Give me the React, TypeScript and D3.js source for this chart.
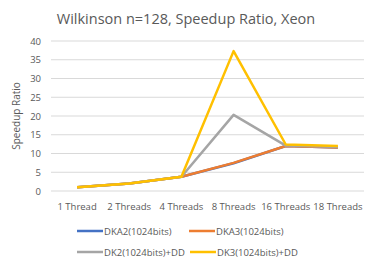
import React, { useRef, useEffect } from "react";
import * as d3 from "d3";

const categories = ["1 Thread", "2 Threads", "4 Threads", "8 Threads", "16 Threads", "18 Threads"];
const dka2 = [1, 2, 3.8, 7.4, 12.0, 11.6];
const dka3 = [1, 2, 3.8, 7.5, 12.0, 11.6];
const dk2dd = [1, 2, 3.8, 20.3, 12.1, 11.7];
const dk3dd = [1, 2, 3.8, 37.3, 12.4, 12.0];
const yTicks = [0, 5, 10, 15, 20, 25, 30, 35, 40];

const series = [
  { name: "DKA2(1024bits)", values: dka2, color: "#4472C4" },
  { name: "DKA3(1024bits)", values: dka3, color: "#ED7D31" },
  { name: "DK2(1024bits)+DD", values: dk2dd, color: "#A5A5A5" },
  { name: "DK3(1024bits)+DD", values: dk3dd, color: "#FFC000" },
];

const W = 373;
const H = 262;
const font = "'Open Sans', 'Noto Sans', sans-serif";

export default function App() {
  const svgRef = useRef<SVGSVGElement>(null);

  useEffect(() => {
    const svg = d3.select(svgRef.current);
    svg.selectAll("*").remove();

    const x = d3.scaleBand().domain(categories).range([51, 364]);
    const y = d3.scaleLinear().domain([0, 40]).range([191, 41]);

    svg.append("rect").attr("width", W).attr("height", H).attr("fill", "#fff");

    // title
    svg.append("text")
      .attr("x", 186).attr("y", 24)
      .attr("text-anchor", "middle")
      .attr("font-family", font)
      .attr("font-size", 14.5)
      .attr("fill", "#595959")
      .text("Wilkinson n=128, Speedup Ratio, Xeon");

    // grid
    svg.append("g").selectAll("line")
      .data(yTicks)
      .enter().append("line")
      .attr("x1", 51).attr("x2", 364)
      .attr("y1", d => y(d)).attr("y2", d => y(d))
      .attr("stroke", "#d9d9d9").attr("stroke-width", 1);

    // y tick labels
    svg.append("g").selectAll("text")
      .data(yTicks)
      .enter().append("text")
      .attr("x", 41).attr("y", d => y(d) + 3.5)
      .attr("text-anchor", "end")
      .attr("font-family", font).attr("font-size", 9.5)
      .attr("fill", "#595959")
      .text(d => d);

    // y label
    svg.append("text")
      .attr("transform", "translate(20,116) rotate(-90)")
      .attr("text-anchor", "middle")
      .attr("font-family", font).attr("font-size", 10)
      .attr("fill", "#595959")
      .text("Speedup Ratio");

    // x labels
    svg.append("g").selectAll("text")
      .data(categories)
      .enter().append("text")
      .attr("x", d => (x(d) as number) + x.bandwidth() / 2)
      .attr("y", 210)
      .attr("text-anchor", "middle")
      .attr("font-family", font).attr("font-size", 9.5)
      .attr("fill", "#595959")
      .text(d => d);

    const line = d3.line<number>()
      .x((_, i) => (x(categories[i]) as number) + x.bandwidth() / 2)
      .y(d => y(d));

    series.forEach(s => {
      svg.append("path")
        .datum(s.values)
        .attr("fill", "none")
        .attr("stroke", s.color)
        .attr("stroke-width", 2.5)
        .attr("stroke-linejoin", "round")
        .attr("d", line);
    });

    // legend
    const legendPos = [
      [77, 231], [189, 231], [77, 252], [190, 252],
    ];
    series.forEach((s, i) => {
      const [lx, ly] = legendPos[i];
      const g = svg.append("g");
      g.append("line")
        .attr("x1", lx).attr("x2", lx + 26)
        .attr("y1", ly).attr("y2", ly)
        .attr("stroke", s.color).attr("stroke-width", 2.5);
      g.append("text")
        .attr("x", lx + 27).attr("y", ly + 3.5)
        .attr("font-family", font).attr("font-size", 9.5)
        .attr("fill", "#595959")
        .text(s.name);
    });
  }, []);

  return (
    <svg ref={svgRef} width={W} height={H} style={{ position: "absolute", left: 0, top: 0 }} />
  );
}
